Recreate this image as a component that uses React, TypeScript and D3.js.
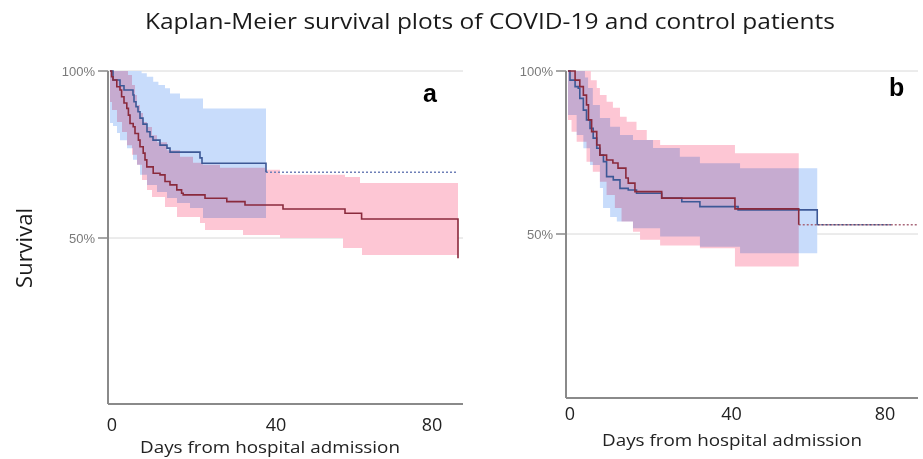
import React from "react";
import * as d3 from "d3";

// tick labels
const dayTicks = [0, 40, 80];
const pctTicks = [50, 100];

// panel a - blue group (Kaplan-Meier steps, % surviving)
const aBlueT = [0, 0.75, 2.5, 3.5, 5.75, 6, 6.5, 7, 7.5, 8.25, 9.25, 10, 10.75, 12.5, 14.25, 15, 22.5, 23, 39];
const aBlueS = [100, 97.3, 95.6, 94.3, 92.8, 90.8, 89.3, 87.8, 85.9, 84.1, 81.8, 80.3, 79.3, 77.8, 76.9, 75.7, 74, 72.4, 69.7];
const aBlueHiT = [0, 7.9, 9.2, 10.8, 12.1, 13.75, 15, 17.5, 23.25];
const aBlueHi = [100, 99.3, 98.3, 96.8, 95.8, 94.8, 93.3, 91.8, 88.8];
const aBlueLoT = [0, 0.75, 1.75, 2.5, 4.25, 5.75, 6.75, 7.5, 9.25, 11.75, 14.25, 16.75, 20, 23.25];
const aBlueLo = [84.4, 83.5, 81.4, 79.3, 76.9, 73.4, 71.9, 68.9, 65.9, 63.8, 62, 60.5, 59, 56];
const aBlueEnd = 39;
const aBlueCensorTo = 87;

// panel a - red group
const aRedT = [0, 0.4, 0.75, 1.7, 2.5, 2.9, 3.5, 4.2, 4.6, 5, 5.8, 6.25, 7.1, 7.5, 8.3, 8.75, 9.2, 10.8, 12.5, 13.75, 15, 16.7, 17.9, 18.3, 23.75, 29.2, 33.75, 43.25, 58.75, 62.9, 87];
const aRedS = [100, 98.3, 97.3, 95.3, 94.3, 92.3, 90.4, 88.8, 86.8, 84.3, 83.3, 81.3, 79.3, 77.3, 75.4, 73.4, 71.3, 69.4, 68.9, 66.9, 65.9, 64.4, 63.4, 62.9, 61.9, 60.9, 59.9, 58.7, 57.4, 55.7, 43.9];
const aRedHiT = [0, 4.5, 5.5, 6.25, 6.75, 7.5, 8.25, 9.25, 10.5, 11.75, 14.25, 17.5, 20.75, 23.25, 27.5, 38.75, 42.5, 58.75, 62.5];
const aRedHi = [100, 98.8, 95.8, 92.8, 89.8, 87.4, 84.7, 83.2, 80.8, 78.7, 76.3, 74.3, 72.5, 71.9, 71, 70.4, 68.9, 68.3, 66.5];
const aRedLoT = [0, 0.5, 1.75, 3, 4.25, 5.5, 6.75, 8, 9.25, 10.5, 13.75, 16.75, 22.5, 23.75, 33.25, 42.5, 58.25, 63];
const aRedLo = [90.7, 88.3, 84.7, 81.7, 77.8, 74.9, 71.9, 67.4, 64.4, 62.3, 59.3, 56.3, 54.5, 52.4, 50.9, 50, 47, 44.9];
const aRedEnd = 87;

// panel b - blue group
const bBlueT = [0, 0.5, 1.8, 2.6, 3, 3.9, 4.7, 5.6, 6.4, 7.3, 8.1, 9, 9.8, 11.5, 13.2, 15.3, 17.4, 23.8, 28.9, 33.5, 43.2, 63.3];
const bBlueS = [100, 97.2, 95.2, 94.7, 91.6, 88, 85, 82.4, 79.4, 76.3, 74.2, 72.2, 67.6, 66.6, 64, 63.5, 62.5, 61, 59.9, 58.4, 57.4, 52.8];
const bBlueHiT = [0, 4.3, 5.1, 6.3, 8.1, 10.7, 13.2, 16.5, 21.6, 28.4, 33.5, 43.7];
const bBlueHi = [100, 98, 94.8, 89.6, 85.6, 82.9, 80.4, 78.8, 76.4, 73.7, 71.7, 70.2];
const bBlueLoT = [0, 2.2, 3.9, 5.6, 8.1, 8.9, 10.7, 12.4, 16.5, 23.4, 33.5, 43.7];
const bBlueLo = [86.5, 80.4, 76.3, 71.2, 64.1, 58, 55.2, 53.8, 51.8, 49.2, 46.1, 44.1];
const bBlueEnd = 63.3;
const bBlueCensorTo = 82;

// panel b - red group
const bRedT = [0, 1.8, 3, 3.9, 4.7, 5.2, 6, 7.3, 8.1, 9.8, 11.4, 12.7, 14.7, 15.3, 17, 23.8, 42.4, 58.6];
const bRedS = [100, 97.2, 95.2, 92.6, 89.6, 85, 81.4, 77.3, 74.2, 72.7, 71.8, 70.2, 67.2, 65.6, 63, 61, 57.7, 52.8];
const bRedHiT = [0, 5.8, 7.3, 8.1, 9.8, 11.4, 13.2, 14.9, 17.4, 20, 23.4, 42.4];
const bRedHi = [100, 97.2, 94.8, 92.6, 90.6, 88.7, 86, 84.4, 81.9, 78.8, 77.3, 74.8];
const bRedLoT = [0, 0.9, 2.2, 4.7, 6.3, 8.1, 9.8, 11.9, 13.6, 16.5, 18.3, 23.4, 33.5, 42.4];
const bRedLo = [85, 81.4, 78.3, 72.2, 69.1, 66, 62, 58, 53.8, 50.7, 48.2, 46.5, 45.6, 40];
const bRedEnd = 58.6;
const bRedCensorTo = 88.8;

const BLUE_LINE = "#3d5896";
const RED_LINE = "#8a2a3c";
const BLUE_FILL = "#c8dcfb";
const RED_FILL = "#fdc6d4";

type Pt = { t: number; lo: number; hi: number };

// value of a step function at time t
const stepAt = (T: number[], V: number[], t: number) => {
  let v = V[0];
  for (let i = 0; i < T.length; i++) if (T[i] <= t) v = V[i];
  return v;
};

const bandPoints = (loT: number[], lo: number[], hiT: number[], hi: number[], end: number): Pt[] => {
  const ts = Array.from(new Set([...loT, ...hiT])).sort((a, b) => a - b);
  const pts = ts.map(t => ({ t, lo: stepAt(loT, lo, t), hi: stepAt(hiT, hi, t) }));
  const last = pts[pts.length - 1];
  pts.push({ t: end, lo: last.lo, hi: last.hi });
  return pts;
};

type Group = {
  t: number[]; s: number[];
  loT: number[]; lo: number[]; hiT: number[]; hi: number[];
  end: number; censorTo?: number; color: string; fill: string;
};

type PanelProps = {
  x0: number; x80: number; yTop: number; y50: number;
  axisX: number; axisY: number; right: number;
  label: string; labelX: number; labelY: number;
  tickY: number; titleY: number; titleX: number;
  groups: Group[]; dotted: { g: number; color: string }[];
};

const Panel = (p: PanelProps) => {
  const x = d3.scaleLinear().domain([0, 80]).range([p.x0, p.x80]);
  const y = d3.scaleLinear().domain([50, 100]).range([p.y50, p.yTop]);

  const area = d3.area<Pt>()
    .curve(d3.curveStepAfter)
    .x(d => x(d.t)).y0(d => y(d.lo)).y1(d => y(d.hi));
  const line = d3.line<[number, number]>()
    .curve(d3.curveStepAfter)
    .x(d => x(d[0])).y(d => y(d[1]));

  return (
    <g>
      {pctTicks.map(v => (
        <g key={v}>
          <line x1={p.axisX} x2={p.right} y1={y(v)} y2={y(v)} stroke="#d8d8d8" strokeWidth={1} />
          <line x1={p.axisX - 10} x2={p.axisX} y1={y(v)} y2={y(v)} stroke="#8a8a8a" strokeWidth={1.5} />
          <text x={p.axisX - 13} y={y(v)} dy="0.35em" textAnchor="end"
            fontFamily="Liberation Sans, Arial, sans-serif" fontSize={13} fill="#7a7a7a">{v}%</text>
        </g>
      ))}
      <g style={{ isolation: "isolate" }}>
        {p.groups.map((g, i) => (
          <path key={i}
            d={area(bandPoints(g.loT, g.lo, g.hiT, g.hi, g.end)) || ""}
            fill={g.fill} style={{ mixBlendMode: "multiply" }} />
        ))}
      </g>
      {p.dotted.map((d, i) => {
        const g = p.groups[d.g];
        const v = g.s[g.s.length - 1];
        return (
          <line key={i} x1={x(g.end)} x2={x(g.censorTo!)} y1={y(v)} y2={y(v)}
            stroke={d.color} strokeWidth={1.5} strokeDasharray="2,2" />
        );
      })}
      {p.groups.map((g, i) => (
        <path key={i} d={line(g.t.map((t, j) => [t, g.s[j]] as [number, number])) || ""}
          fill="none" stroke={g.color} strokeWidth={1.6} />
      ))}
      <line x1={p.axisX} x2={p.axisX} y1={p.yTop} y2={p.axisY} stroke="#8a8a8a" strokeWidth={2} />
      <line x1={p.axisX} x2={p.right} y1={p.axisY} y2={p.axisY} stroke="#8a8a8a" strokeWidth={2} />
      {dayTicks.map(d => (
        <text key={d} x={x(d) + (d === 40 ? 6 : 2)} y={p.tickY} textAnchor="middle"
          fontFamily="Open Sans, sans-serif" fontSize={18} fill="#222">{d}</text>
      ))}
      <text x={p.titleX} y={p.titleY} textAnchor="middle" fontFamily="Open Sans, sans-serif"
        fontSize={17} fill="#222" textLength={260} lengthAdjust="spacingAndGlyphs">
        Days from hospital admission
      </text>
      <text x={p.labelX} y={p.labelY} fontFamily="Liberation Sans, Arial, sans-serif"
        fontWeight="bold" fontSize={25} fill="#000">{p.label}</text>
    </g>
  );
};

const App = () => {
  const groupsA: Group[] = [
    { t: aBlueT, s: aBlueS, loT: aBlueLoT, lo: aBlueLo, hiT: aBlueHiT, hi: aBlueHi, end: aBlueEnd, censorTo: aBlueCensorTo, color: BLUE_LINE, fill: BLUE_FILL },
    { t: aRedT, s: aRedS, loT: aRedLoT, lo: aRedLo, hiT: aRedHiT, hi: aRedHi, end: aRedEnd, color: RED_LINE, fill: RED_FILL },
  ];
  const groupsB: Group[] = [
    { t: bBlueT, s: bBlueS, loT: bBlueLoT, lo: bBlueLo, hiT: bBlueHiT, hi: bBlueHi, end: bBlueEnd, censorTo: bBlueCensorTo, color: BLUE_LINE, fill: BLUE_FILL },
    { t: bRedT, s: bRedS, loT: bRedLoT, lo: bRedLo, hiT: bRedHiT, hi: bRedHi, end: bRedEnd, censorTo: bRedCensorTo, color: RED_LINE, fill: RED_FILL },
  ];
  return (
    <svg width={923} height={459} style={{ position: "absolute", left: 0, top: 0, background: "#fff" }}>
      <text x={490} y={29} textAnchor="middle" fontFamily="Open Sans, sans-serif" fontSize={22}
        fill="#1a1a1a" textLength={690} lengthAdjust="spacingAndGlyphs">
        Kaplan-Meier survival plots of COVID-19 and control patients
      </text>
      <text transform="translate(32,248) rotate(-90)" textAnchor="middle"
        fontFamily="Open Sans, sans-serif" fontSize={22} fill="#1a1a1a">Survival</text>
      <Panel x0={110} x80={430} yTop={71} y50={238} axisX={108} axisY={404} right={463}
        label="a" labelX={423} labelY={102} tickY={431} titleX={270} titleY={453}
        groups={groupsA} dotted={[{ g: 0, color: "#6f80b8" }]} />
      <Panel x0={568} x80={883} yTop={71} y50={234} axisX={566} axisY={398} right={918}
        label="b" labelX={889} labelY={96} tickY={420} titleX={732} titleY={446}
        groups={groupsB} dotted={[{ g: 1, color: "#a8677a" }, { g: 0, color: "#4a4f80" }]} />
    </svg>
  );
};

export default App;
